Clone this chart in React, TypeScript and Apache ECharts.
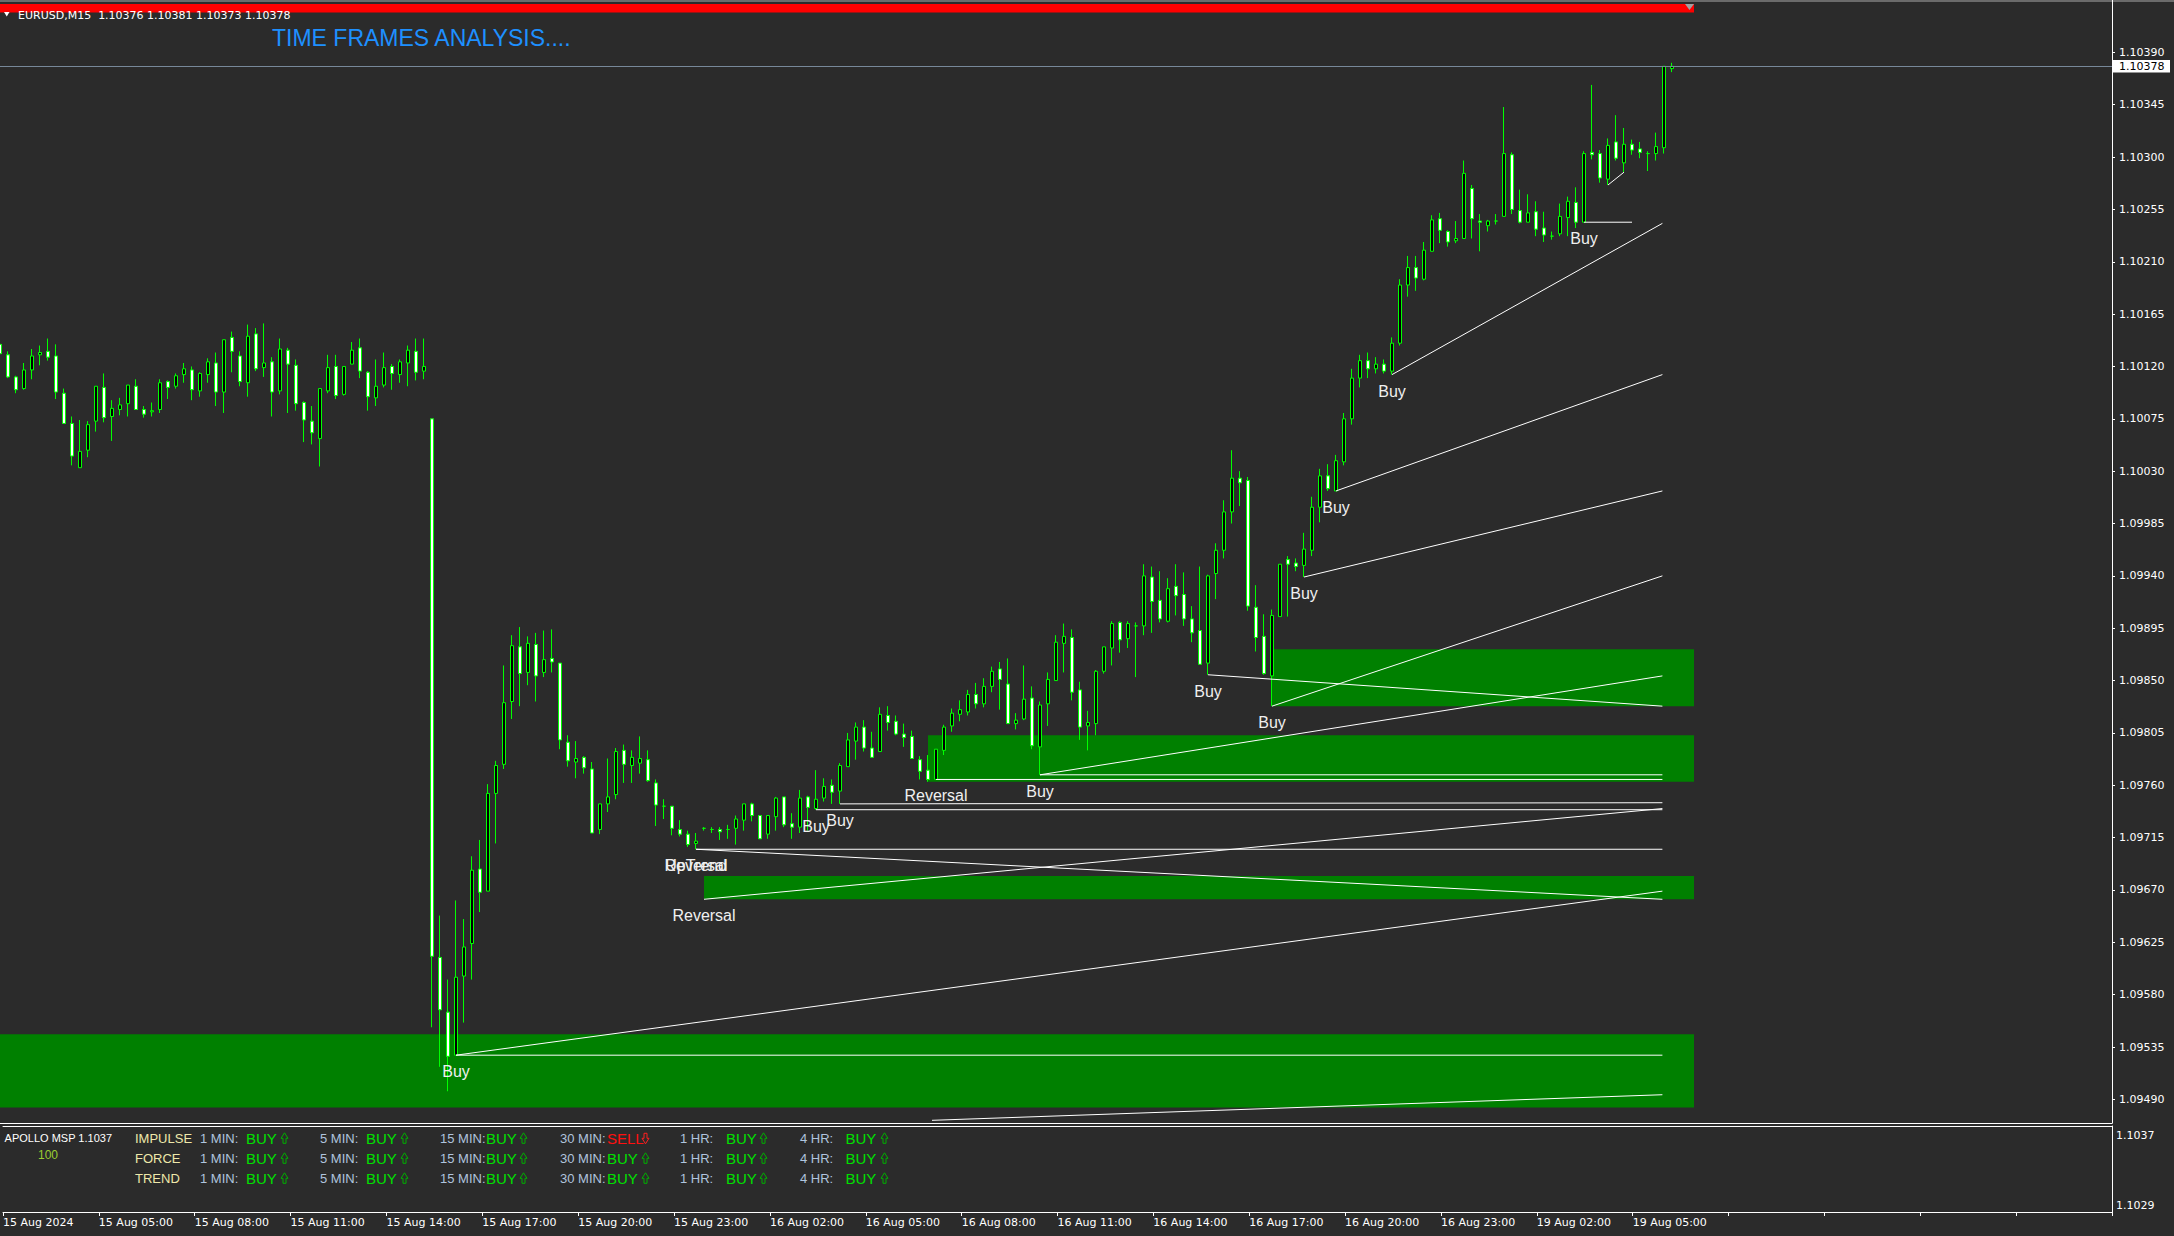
import React, { useEffect, useRef } from 'react';
import * as echarts from 'echarts';

const FONT = "'Liberation Sans', Arial, sans-serif";
const AXFONT = "'DejaVu Sans', Verdana, sans-serif";
const BG = '#2b2b2b';

// M15 candles, [open, close, low, high]
const candlesAug15: number[][] = [
  [1.10139, 1.10131, 1.10126, 1.10141], [1.10130, 1.10111, 1.10110, 1.10133], [1.10111, 1.10100, 1.10097, 1.10112],
  [1.10101, 1.10117, 1.10100, 1.10123], [1.10117, 1.10129, 1.10109, 1.10135], [1.10130, 1.10132, 1.10121, 1.10138],
  [1.10133, 1.10128, 1.10125, 1.10144], [1.10129, 1.10098, 1.10092, 1.10139], [1.10097, 1.10071, 1.10071, 1.10101],
  [1.10071, 1.10043, 1.10035, 1.10077], [1.10033, 1.10047, 1.10033, 1.10074], [1.10048, 1.10070, 1.10042, 1.10073],
  [1.10073, 1.10103, 1.10064, 1.10103], [1.10102, 1.10076, 1.10072, 1.10114], [1.10077, 1.10084, 1.10056, 1.10091],
  [1.10083, 1.10087, 1.10078, 1.10093], [1.10088, 1.10104, 1.10077, 1.10104], [1.10103, 1.10083, 1.10083, 1.10109],
  [1.10083, 1.10079, 1.10076, 1.10086], [1.10081, 1.10082, 1.10077, 1.10089], [1.10083, 1.10106, 1.10080, 1.10109],
  [1.10107, 1.10102, 1.10092, 1.10108], [1.10103, 1.10112, 1.10101, 1.10114], [1.10113, 1.10118, 1.10106, 1.10123],
  [1.10117, 1.10100, 1.10091, 1.10120], [1.10099, 1.10114, 1.10094, 1.10115], [1.10113, 1.10124, 1.10106, 1.10127],
  [1.10123, 1.10098, 1.10086, 1.10132], [1.10098, 1.10143, 1.10080, 1.10143], [1.10145, 1.10133, 1.10115, 1.10150],
  [1.10129, 1.10107, 1.10103, 1.10133], [1.10106, 1.10146, 1.10094, 1.10156], [1.10148, 1.10118, 1.10116, 1.10153],
  [1.10119, 1.10123, 1.10111, 1.10157], [1.10124, 1.10098, 1.10077, 1.10128], [1.10099, 1.10135, 1.10096, 1.10144],
  [1.10134, 1.10122, 1.10080, 1.10136], [1.10121, 1.10088, 1.10082, 1.10126], [1.10089, 1.10074, 1.10055, 1.10090],
  [1.10073, 1.10063, 1.10053, 1.10086], [1.10058, 1.10101, 1.10034, 1.10101], [1.10099, 1.10119, 1.10097, 1.10130],
  [1.10120, 1.10095, 1.10092, 1.10130], [1.10096, 1.10120, 1.10095, 1.10120], [1.10122, 1.10134, 1.10122, 1.10141],
  [1.10136, 1.10116, 1.10110, 1.10144], [1.10115, 1.10094, 1.10082, 1.10116], [1.10093, 1.10103, 1.10086, 1.10126],
  [1.10104, 1.10119, 1.10102, 1.10132], [1.10120, 1.10114, 1.10100, 1.10122], [1.10113, 1.10124, 1.10106, 1.10126],
  [1.10123, 1.10134, 1.10103, 1.10138], [1.10133, 1.10115, 1.10108, 1.10144], [1.10116, 1.10120, 1.10109, 1.10144],
  [1.10075, 1.09613, 1.09552, 1.10075], [1.09612, 1.09567, 1.09518, 1.09648], [1.09565, 1.09527, 1.09497, 1.09593],
  [1.09528, 1.09595, 1.09528, 1.09661], [1.09596, 1.09621, 1.09556, 1.09645], [1.09624, 1.09687, 1.09593, 1.09699],
  [1.09688, 1.09668, 1.09651, 1.09713], [1.09669, 1.09753, 1.09669, 1.09761], [1.09753, 1.09777, 1.09710, 1.09781],
  [1.09778, 1.09831, 1.09774, 1.09863], [1.09832, 1.09880, 1.09817, 1.09889], [1.09879, 1.09856, 1.09828, 1.09896],
  [1.09857, 1.09882, 1.09846, 1.09888], [1.09881, 1.09854, 1.09832, 1.09891], [1.09857, 1.09868, 1.09853, 1.09893],
  [1.09869, 1.09866, 1.09857, 1.09894], [1.09865, 1.09799, 1.09791, 1.09865], [1.09797, 1.09781, 1.09776, 1.09803],
  [1.09780, 1.09783, 1.09766, 1.09798], [1.09784, 1.09775, 1.09770, 1.09785], [1.09774, 1.09719, 1.09719, 1.09780],
  [1.09722, 1.09744, 1.09718, 1.09744], [1.09744, 1.09750, 1.09737, 1.09783], [1.09752, 1.09789, 1.09748, 1.09792],
  [1.09790, 1.09778, 1.09762, 1.09795], [1.09777, 1.09784, 1.09762, 1.09790], [1.09779, 1.09783, 1.09770, 1.09802],
  [1.09782, 1.09764, 1.09763, 1.09790], [1.09762, 1.09743, 1.09725, 1.09765], [1.09742, 1.09742, 1.09731, 1.09748],
  [1.09742, 1.09723, 1.09717, 1.09742], [1.09722, 1.09718, 1.09716, 1.09730], [1.09718, 1.09709, 1.09707, 1.09721],
  [1.09710, 1.09712, 1.09705, 1.09719],
];

const candlesAug16: number[][] = [
  [1.09723, 1.09723, 1.09721, 1.09724], [1.09722, 1.09722, 1.09719, 1.09724], [1.09722, 1.09720, 1.09713, 1.09724],
  [1.09722, 1.09722, 1.09714, 1.09726], [1.09723, 1.09731, 1.09709, 1.09734], [1.09730, 1.09744, 1.09721, 1.09744],
  [1.09744, 1.09734, 1.09729, 1.09745], [1.09734, 1.09714, 1.09714, 1.09734], [1.09718, 1.09734, 1.09714, 1.09734],
  [1.09733, 1.09749, 1.09721, 1.09750], [1.09750, 1.09726, 1.09724, 1.09750], [1.09727, 1.09724, 1.09714, 1.09736],
  [1.09724, 1.09749, 1.09719, 1.09756], [1.09750, 1.09741, 1.09721, 1.09751], [1.09740, 1.09748, 1.09739, 1.09773],
  [1.09749, 1.09759, 1.09746, 1.09766], [1.09760, 1.09754, 1.09744, 1.09765], [1.09755, 1.09777, 1.09744, 1.09779],
  [1.09776, 1.09799, 1.09776, 1.09805], [1.09798, 1.09810, 1.09782, 1.09814], [1.09810, 1.09792, 1.09789, 1.09816],
  [1.09792, 1.09784, 1.09784, 1.09806], [1.09789, 1.09821, 1.09789, 1.09827], [1.09820, 1.09814, 1.09807, 1.09828],
  [1.09815, 1.09804, 1.09803, 1.09820], [1.09804, 1.09801, 1.09793, 1.09813], [1.09802, 1.09783, 1.09783, 1.09807],
  [1.09782, 1.09772, 1.09765, 1.09785], [1.09773, 1.09765, 1.09763, 1.09786], [1.09765, 1.09791, 1.09765, 1.09791],
  [1.09790, 1.09810, 1.09786, 1.09812], [1.09811, 1.09822, 1.09806, 1.09826], [1.09821, 1.09825, 1.09815, 1.09833],
  [1.09823, 1.09838, 1.09820, 1.09842], [1.09838, 1.09830, 1.09826, 1.09848], [1.09830, 1.09845, 1.09827, 1.09852],
  [1.09845, 1.09858, 1.09840, 1.09862], [1.09860, 1.09851, 1.09825, 1.09866], [1.09847, 1.09813, 1.09813, 1.09869],
  [1.09813, 1.09816, 1.09808, 1.09822], [1.09817, 1.09834, 1.09816, 1.09863], [1.09835, 1.09794, 1.09791, 1.09845],
  [1.09793, 1.09829, 1.09769, 1.09832], [1.09830, 1.09851, 1.09811, 1.09857], [1.09850, 1.09883, 1.09850, 1.09889],
  [1.09882, 1.09888, 1.09857, 1.09899], [1.09887, 1.09840, 1.09833, 1.09894], [1.09842, 1.09810, 1.09799, 1.09849],
  [1.09811, 1.09814, 1.09790, 1.09824], [1.09813, 1.09858, 1.09803, 1.09859], [1.09858, 1.09879, 1.09856, 1.09879],
  [1.09878, 1.09899, 1.09863, 1.09901], [1.09900, 1.09885, 1.09874, 1.09901], [1.09886, 1.09899, 1.09878, 1.09901],
  [1.09897, 1.09897, 1.09853, 1.09900], [1.09897, 1.09940, 1.09889, 1.09950], [1.09939, 1.09918, 1.09891, 1.09948],
  [1.09919, 1.09903, 1.09900, 1.09944], [1.09901, 1.09929, 1.09900, 1.09938], [1.09931, 1.09923, 1.09906, 1.09950],
  [1.09924, 1.09903, 1.09897, 1.09943], [1.09903, 1.09891, 1.09883, 1.09914], [1.09893, 1.09864, 1.09864, 1.09948],
  [1.09865, 1.09940, 1.09855, 1.09941], [1.09942, 1.09962, 1.09920, 1.09968], [1.09962, 1.09995, 1.09955, 1.10005],
  [1.09995, 1.10024, 1.09985, 1.10048], [1.10024, 1.10020, 1.10000, 1.10030], [1.10022, 1.09914, 1.09910, 1.10025],
  [1.09913, 1.09887, 1.09875, 1.09932], [1.09888, 1.09856, 1.09855, 1.09907], [1.09854, 1.09906, 1.09828, 1.09911],
  [1.09905, 1.09950, 1.09905, 1.09950], [1.09954, 1.09950, 1.09905, 1.09957], [1.09951, 1.09948, 1.09944, 1.09955],
  [1.09949, 1.09963, 1.09939, 1.09977], [1.09962, 1.09999, 1.09957, 1.10008], [1.09999, 1.10026, 1.09986, 1.10032],
  [1.10026, 1.10015, 1.10013, 1.10036], [1.10013, 1.10039, 1.10013, 1.10044], [1.10038, 1.10075, 1.10035, 1.10080],
  [1.10075, 1.10110, 1.10070, 1.10118], [1.10110, 1.10125, 1.10102, 1.10130], [1.10125, 1.10118, 1.10110, 1.10132],
  [1.10118, 1.10122, 1.10114, 1.10128], [1.10122, 1.10116, 1.10114, 1.10126], [1.10116, 1.10140, 1.10113, 1.10145],
  [1.10140, 1.10190, 1.10138, 1.10195], [1.10190, 1.10205, 1.10180, 1.10215], [1.10205, 1.10196, 1.10185, 1.10215],
  [1.10195, 1.10220, 1.10194, 1.10227], [1.10219, 1.10246, 1.10219, 1.10250], [1.10247, 1.10237, 1.10226, 1.10252],
  [1.10236, 1.10227, 1.10223, 1.10237], [1.10228, 1.10230, 1.10226, 1.10245], [1.10230, 1.10286, 1.10230, 1.10297],
];

const candlesAug19: number[][] = [
  [1.10273, 1.10247, 1.10230, 1.10276], [1.10245, 1.10244, 1.10219, 1.10251], [1.10241, 1.10245, 1.10236, 1.10246],
  [1.10245, 1.10245, 1.10242, 1.10251], [1.10249, 1.10303, 1.10249, 1.10343], [1.10302, 1.10255, 1.10251, 1.10304],
  [1.10254, 1.10244, 1.10243, 1.10272], [1.10244, 1.10252, 1.10244, 1.10268], [1.10253, 1.10238, 1.10232, 1.10262],
  [1.10239, 1.10233, 1.10227, 1.10253], [1.10232, 1.10232, 1.10229, 1.10236], [1.10234, 1.10249, 1.10232, 1.10260],
  [1.10248, 1.10262, 1.10232, 1.10266], [1.10261, 1.10244, 1.10239, 1.10274], [1.10244, 1.10303, 1.10244, 1.10305],
  [1.10304, 1.10302, 1.10298, 1.10362], [1.10303, 1.10282, 1.10278, 1.10306], [1.10281, 1.10310, 1.10276, 1.10316],
  [1.10313, 1.10299, 1.10297, 1.10336], [1.10295, 1.10311, 1.10287, 1.10325], [1.10311, 1.10306, 1.10302, 1.10315],
  [1.10307, 1.10304, 1.10299, 1.10313], [1.10303, 1.10303, 1.10288, 1.10305], [1.10303, 1.10309, 1.10297, 1.10321],
  [1.10308, 1.10378, 1.10303, 1.10378], [1.10376, 1.10378, 1.10373, 1.10381],
];

const priceTicks = [
  1.10390, 1.10345, 1.10300, 1.10255, 1.10210, 1.10165, 1.10120, 1.10075, 1.10030, 1.09985, 1.09940,
  1.09895, 1.09850, 1.09805, 1.09760, 1.09715, 1.09670, 1.09625, 1.09580, 1.09535, 1.09490,
];
const subTicks = [1.1037, 1.1029];
const lastPrice = 1.10378;
const headerText = 'EURUSD,M15  1.10376 1.10381 1.10373 1.10378';

// zones: [fromBar, toBar, priceTop, priceBottom]
const zones: number[][] = [
  [-1, 211.75, 1.09546, 1.09483],
  [88, 211.75, 1.09682, 1.09662],
  [116, 211.75, 1.09803, 1.09763],
  [159, 211.75, 1.09877, 1.09828],
];

// trend lines: [fromBar, fromPrice, toBar, toPrice]
const trendLines: number[][] = [
  [57, 1.09528, 207.8, 1.09528],
  [57, 1.09528, 207.8, 1.09669],
  [116.5, 1.09472, 207.8, 1.09494],
  [87, 1.09705, 207.8, 1.09705],
  [87, 1.09705, 207.8, 1.09662],
  [88, 1.09662, 207.8, 1.09740],
  [102, 1.09739, 207.8, 1.09739],
  [105, 1.09744, 207.8, 1.09745],
  [117, 1.09765, 207.8, 1.09765],
  [130, 1.09769, 207.8, 1.09769],
  [130, 1.09769, 207.8, 1.09854],
  [151, 1.09855, 207.8, 1.09828],
  [159, 1.09828, 207.8, 1.09940],
  [163, 1.09939, 207.8, 1.10013],
  [167, 1.10013, 207.8, 1.10113],
  [174, 1.10113, 207.8, 1.10243],
  [198, 1.10244, 204, 1.10244],
  [201, 1.10276, 203, 1.10287],
];

// signal labels: bar, anchor price, text
const signalBars = [57, 102, 105, 130, 151, 159, 163, 167, 174, 198, 117, 88, 87, 87];
const signalPrices = [1.09528, 1.09739, 1.09744, 1.09769, 1.09855, 1.09828, 1.09939, 1.10013, 1.10113, 1.10244, 1.09765, 1.09662, 1.09705, 1.09705];
const signalTexts = ['Buy', 'Buy', 'Buy', 'Buy', 'Buy', 'Buy', 'Buy', 'Buy', 'Buy', 'Buy', 'Reversal', 'Reversal', 'UpTrend', 'Reversal'];

// indicator table
const rowNames = ['IMPULSE', 'FORCE', 'TREND'];
const tfNames = ['1 MIN:', '5 MIN:', '15 MIN:', '30 MIN:', '1 HR:', '4 HR:'];
const tfSignals = [
  ['BUY', 'BUY', 'BUY', 'SELL', 'BUY', 'BUY'],
  ['BUY', 'BUY', 'BUY', 'BUY', 'BUY', 'BUY'],
  ['BUY', 'BUY', 'BUY', 'BUY', 'BUY', 'BUY'],
];

const MONTHS = ['Jan', 'Feb', 'Mar', 'Apr', 'May', 'Jun', 'Jul', 'Aug', 'Sep', 'Oct', 'Nov', 'Dec'];
const TOTAL_SLOTS = 265;

function buildTimes(count: number): string[] {
  const out: string[] = [];
  let t = Date.UTC(2024, 7, 15, 2, 0);
  while (out.length < count) {
    const d = new Date(t);
    const wd = d.getUTCDay();
    if (wd !== 0 && wd !== 6) {
      const hh = String(d.getUTCHours()).padStart(2, '0');
      const mm = String(d.getUTCMinutes()).padStart(2, '0');
      out.push(`${d.getUTCDate()} ${MONTHS[d.getUTCMonth()]} ${hh}:${mm}`);
    }
    t += 15 * 60000;
  }
  return out;
}

function txt(text: string, x: number, y: number, font: string, fill: string, extra: any = {}) {
  return {
    type: 'text',
    x,
    y,
    silent: true,
    style: {
      text,
      fill,
      font,
      align: 'left',
      textAlign: 'left',
      verticalAlign: 'middle',
      textVerticalAlign: 'middle',
      ...extra,
    },
  };
}

function arrow(x: number, y: number, up: boolean, color: string) {
  const pts = up
    ? [[x, y], [x + 3.5, y - 5.5], [x + 7, y], [x + 5, y], [x + 5, y + 5], [x + 2, y + 5], [x + 2, y]]
    : [[x, y], [x + 3.5, y + 5.5], [x + 7, y], [x + 5, y], [x + 5, y - 5], [x + 2, y - 5], [x + 2, y]];
  return { type: 'polygon', silent: true, shape: { points: pts }, style: { fill: 'none', stroke: color, lineWidth: 1 } };
}

export default function App() {
  const ref = useRef<HTMLDivElement>(null);

  useEffect(() => {
    document.body.style.margin = '0';
    document.body.style.background = BG;
    if (!ref.current) return;
    const chart = echarts.init(ref.current, undefined, { renderer: 'svg' });

    const cats = buildTimes(TOTAL_SLOTS);
    const candles = [...candlesAug15, ...candlesAug16, ...candlesAug19];
    const lastIdx = candles.length - 1;

    const Y_MAX = 1.10435;
    const Y_MIN = 1.094697;

    const tfLabelX = [200, 320, 440, 560, 680, 800];
    const tfValueX = [246, 366, 486, 607, 726, 845.5];
    const tfArrowX = [281, 401, 520, 642, 760, 881];

    const graphics: any[] = [
      { type: 'rect', silent: true, shape: { x: 0, y: 0, width: 2174, height: 2 }, style: { fill: '#6b6b6b' } },
      { type: 'rect', silent: true, shape: { x: 0, y: 4, width: 1694, height: 8.5 }, style: { fill: '#ff0000' } },
      { type: 'polygon', silent: true, shape: { points: [[1685, 4], [1694, 4], [1689.5, 10]] }, style: { fill: '#a0a0a0' } },
      { type: 'polygon', silent: true, shape: { points: [[4, 12], [9.5, 12], [6.75, 16.5]] }, style: { fill: '#ffffff' } },
      txt(headerText, 18, 15.5, `11px ${AXFONT}`, '#ffffff'),
      txt('TIME FRAMES ANALYSIS....', 272, 38, `23px ${FONT}`, '#1e90ff'),
      txt('APOLLO MSP 1.1037', 4.6, 1137.5, `11px ${FONT}`, '#ffffff'),
      txt('100', 38, 1155, `12px ${FONT}`, '#9acd32'),
    ];
    rowNames.forEach((r, i) => {
      const y = 1138.3 + i * 20;
      graphics.push(txt(r, 135, y, `13px ${FONT}`, '#eee8aa'));
      tfNames.forEach((tf, j) => {
        graphics.push(txt(tf, tfLabelX[j], y, `13px ${FONT}`, '#b0c4de'));
        const sig = tfSignals[i][j];
        const buy = sig === 'BUY';
        graphics.push(txt(sig, tfValueX[j], y + 0.5, `15px ${FONT}`, buy ? '#00e000' : '#ff1010'));
        graphics.push(arrow(tfArrowX[j], y, buy, buy ? '#00b000' : '#ff2020'));
      });
    });

    const option: any = {
      animation: false,
      backgroundColor: BG,
      grid: [
        { left: 0, right: 62, top: 0, height: 1123 },
        { left: 0, right: 62, top: 1126, height: 86 },
      ],
      xAxis: [
        {
          type: 'category', gridIndex: 0, data: cats, boundaryGap: false,
          axisLine: { show: true, onZero: false, lineStyle: { color: '#ffffff', width: 1 } },
          axisTick: { show: false }, axisLabel: { show: false }, splitLine: { show: false },
        },
        {
          type: 'value', gridIndex: 0, min: 0, max: TOTAL_SLOTS - 1, show: false,
          axisLine: { show: false, onZero: false }, axisTick: { show: false }, axisLabel: { show: false }, splitLine: { show: false },
        },
        {
          type: 'category', gridIndex: 1, data: cats, boundaryGap: false, position: 'bottom',
          axisLine: { show: true, onZero: false, lineStyle: { color: '#ffffff', width: 1 } },
          axisTick: { show: true, interval: 11, length: 4, lineStyle: { color: '#ffffff' } },
          axisLabel: {
            show: true, interval: 11, align: 'left', color: '#ffffff', fontSize: 11, fontFamily: AXFONT, margin: 5,
            formatter: (v: string, idx: number) => (idx === 0 ? '15 Aug 2024' : idx > lastIdx ? '' : v),
          },
          splitLine: { show: false },
        },
        {
          type: 'category', gridIndex: 1, data: cats, boundaryGap: false, position: 'top',
          axisLine: { show: true, onZero: false, lineStyle: { color: '#ffffff', width: 1 } },
          axisTick: { show: false }, axisLabel: { show: false }, splitLine: { show: false },
        },
      ],
      yAxis: [
        {
          type: 'value', gridIndex: 0, position: 'right', min: Y_MIN, max: Y_MAX, scale: true,
          axisLine: { show: true, onZero: false, lineStyle: { color: '#ffffff', width: 1 } },
          axisTick: { show: true, length: 3, lineStyle: { color: '#ffffff' }, customValues: priceTicks },
          axisLabel: {
            show: true, color: '#ffffff', fontSize: 11, fontFamily: AXFONT, margin: 7,
            customValues: priceTicks, formatter: (v: number) => v.toFixed(5),
          },
          splitLine: { show: false },
        },
        {
          type: 'value', gridIndex: 1, position: 'right', min: 1.10282, max: 1.103803, scale: true,
          axisLine: { show: true, onZero: false, lineStyle: { color: '#ffffff', width: 1 } },
          axisTick: { show: false },
          axisLabel: {
            show: true, color: '#ffffff', fontSize: 11, fontFamily: AXFONT, margin: 4,
            customValues: subTicks, formatter: (v: number) => v.toFixed(4),
          },
          splitLine: { show: false },
        },
      ],
      series: [
        {
          type: 'custom', name: 'zones', xAxisIndex: 1, yAxisIndex: 0, z: 1, clip: true, silent: true,
          data: zones,
          encode: { x: [0, 1], y: [2, 3] },
          renderItem: (_p: any, api: any) => {
            const a = api.coord([api.value(0), api.value(2)]);
            const b = api.coord([api.value(1), api.value(3)]);
            return {
              type: 'rect',
              shape: { x: a[0], y: a[1], width: b[0] - a[0], height: b[1] - a[1] },
              style: { fill: '#008000' },
            };
          },
        },
        {
          type: 'candlestick', name: 'EURUSD', xAxisIndex: 0, yAxisIndex: 0, z: 2,
          data: candles, barWidth: 4,
          itemStyle: {
            color: '#000000', color0: '#ffffff',
            borderColor: '#00ff00', borderColor0: '#00ff00', borderColorDoji: '#00ff00', borderWidth: 1,
          },
        },
        {
          type: 'custom', name: 'lines', xAxisIndex: 1, yAxisIndex: 0, z: 3, clip: true, silent: true,
          data: trendLines,
          encode: { x: [0, 2], y: [1, 3] },
          renderItem: (_p: any, api: any) => {
            const a = api.coord([api.value(0), api.value(1)]);
            const b = api.coord([api.value(2), api.value(3)]);
            return {
              type: 'line',
              shape: { x1: a[0], y1: a[1], x2: b[0], y2: b[1] },
              style: { stroke: '#ffffff', lineWidth: 1 },
            };
          },
        },
        {
          type: 'custom', name: 'signals', xAxisIndex: 1, yAxisIndex: 0, z: 4, clip: false, silent: true,
          data: signalBars.map((b, i) => [b, signalPrices[i], i]),
          encode: { x: 0, y: 1 },
          renderItem: (_p: any, api: any) => {
            const a = api.coord([api.value(0), api.value(1)]);
            const i = api.value(2);
            return {
              type: 'text',
              x: a[0],
              y: a[1] + 16.5,
              style: {
                text: signalTexts[i], fill: '#f0f0f0', font: `16px ${FONT}`,
                align: 'center', textAlign: 'center', verticalAlign: 'middle', textVerticalAlign: 'middle',
              },
            };
          },
        },
        {
          type: 'custom', name: 'bid', xAxisIndex: 1, yAxisIndex: 0, z: 5, clip: false, silent: true,
          data: [[0, lastPrice]],
          encode: { x: 0, y: 1 },
          renderItem: (_p: any, api: any) => {
            const a = api.coord([0, api.value(1)]);
            const b = api.coord([TOTAL_SLOTS - 1, api.value(1)]);
            const y = Math.round(a[1]) + 0.5;
            return {
              type: 'group',
              children: [
                { type: 'line', shape: { x1: a[0], y1: y, x2: b[0], y2: y }, style: { stroke: '#778899', lineWidth: 1 } },
                { type: 'rect', shape: { x: b[0] + 1, y: y - 6.5, width: 57, height: 12.5 }, style: { fill: '#ffffff' } },
                {
                  type: 'text', x: b[0] + 7, y: y,
                  style: {
                    text: lastPrice.toFixed(5), fill: '#000000', font: `11px ${AXFONT}`,
                    align: 'left', textAlign: 'left', verticalAlign: 'middle', textVerticalAlign: 'middle',
                  },
                },
              ],
            };
          },
        },
      ],
      graphic: graphics,
    };

    chart.setOption(option);
    return () => chart.dispose();
  }, []);

  return (
    <div
      ref={ref}
      style={{ position: 'fixed', left: 0, top: 0, width: 2174, height: 1236, background: BG }}
    />
  );
}
